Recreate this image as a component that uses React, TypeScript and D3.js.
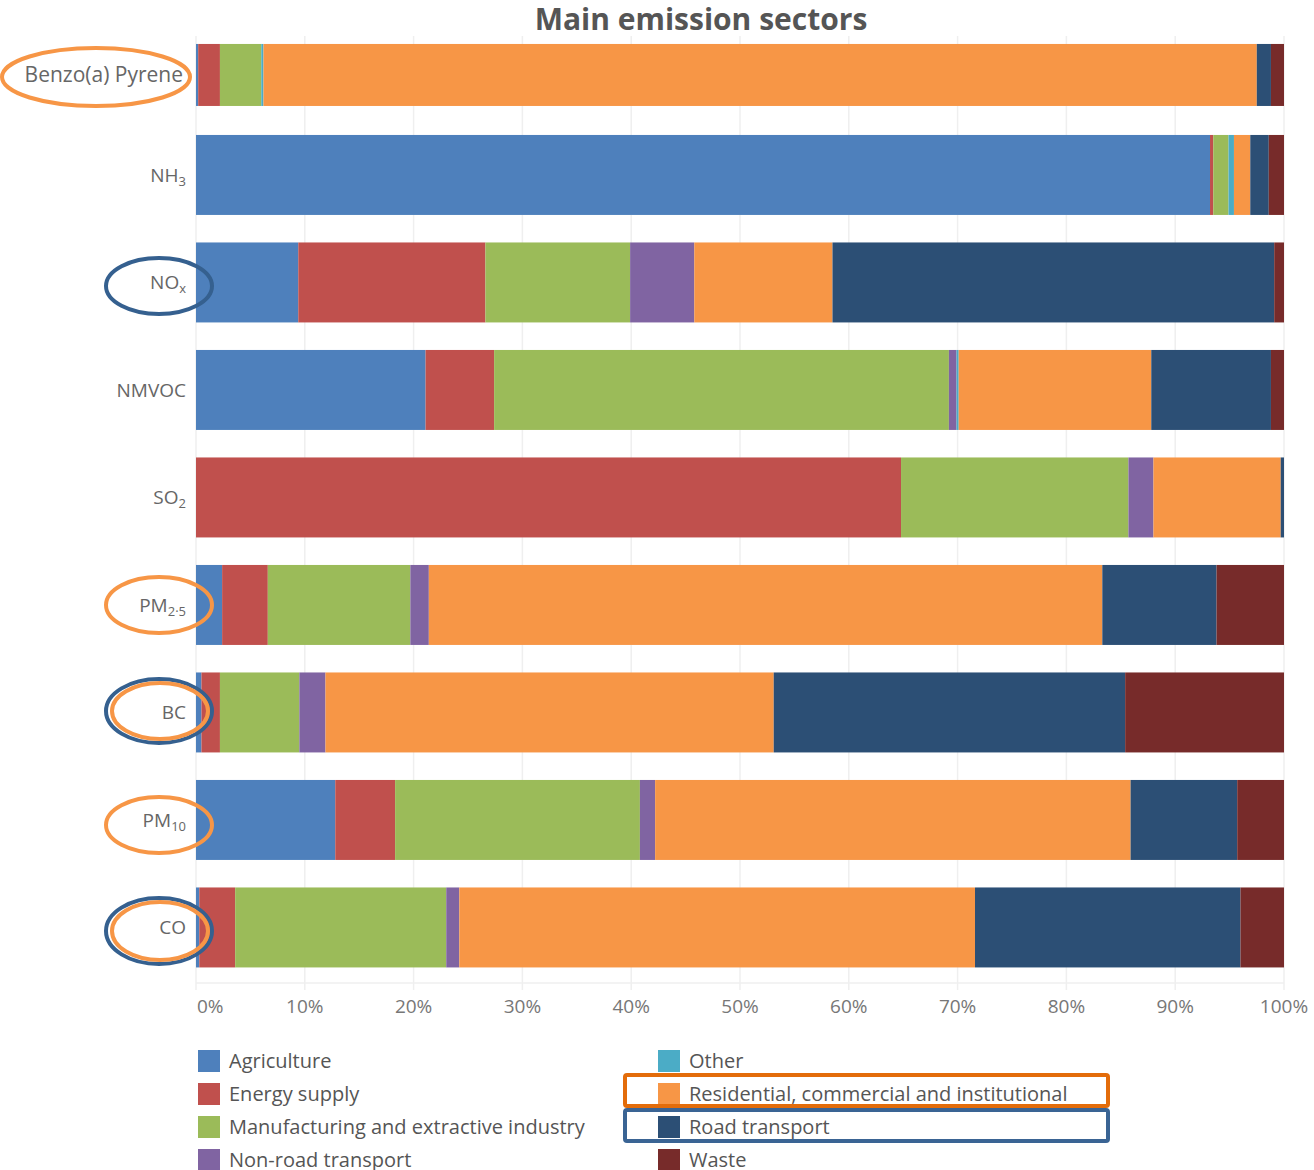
import React, { useRef, useEffect } from 'react';
import * as d3 from 'd3';

// pollutants (top to bottom)
const pollutants = ['Benzo(a) Pyrene', 'NH3', 'NOx', 'NMVOC', 'SO2', 'PM2.5', 'BC', 'PM10', 'CO'];

const sectors = [
  'Agriculture',
  'Energy supply',
  'Manufacturing and extractive industry',
  'Non-road transport',
  'Other',
  'Residential, commercial and institutional',
  'Road transport',
  'Waste',
];

const sectorColors = ['#4e80bc', '#c0504d', '#9bbb59', '#8064a2', '#4bacc6', '#f79646', '#2c4f75', '#772b2a'];

// share (%) of each sector, one array per sector, in pollutant order
const agriculture = [0.2, 93.2, 9.4, 21.1, 0, 2.4, 0.5, 12.8, 0.3];
const energySupply = [2.0, 0.3, 17.2, 6.3, 64.8, 4.2, 1.7, 5.5, 3.3];
const manufacturing = [3.8, 1.4, 13.3, 41.8, 20.9, 13.1, 7.3, 22.5, 19.4];
const nonRoad = [0, 0, 5.9, 0.7, 2.3, 1.7, 2.4, 1.4, 1.2];
const other = [0.2, 0.5, 0, 0.2, 0, 0, 0, 0, 0];
const residential = [91.3, 1.5, 12.7, 17.7, 11.7, 61.9, 41.2, 43.7, 47.4];
const roadTransport = [1.3, 1.7, 40.6, 11.0, 0.3, 10.5, 32.3, 9.8, 24.4];
const waste = [1.2, 1.4, 0.9, 1.2, 0, 6.2, 14.6, 4.3, 4.0];

const tickValues = [0, 10, 20, 30, 40, 50, 60, 70, 80, 90, 100];

// label pieces: [main, subscript]
const labelParts: [string, string][] = [
  ['Benzo(a) Pyrene', ''],
  ['NH', '3'],
  ['NO', 'x'],
  ['NMVOC', ''],
  ['SO', '2'],
  ['PM', '2·5'],
  ['BC', ''],
  ['PM', '10'],
  ['CO', ''],
];

const App = () => {
  const svgRef = useRef(null);

  useEffect(() => {
    document.body.style.margin = '0';
    const width = 1314;
    const height = 1170;
    const font = '"Open Sans", sans-serif';

    const svg = d3.select(svgRef.current)
      .attr('width', width)
      .attr('height', height);
    svg.selectAll('*').remove();

    const table = pollutants.map((p, i) => {
      const row: any = { pollutant: p };
      const cols = [agriculture, energySupply, manufacturing, nonRoad, other, residential, roadTransport, waste];
      sectors.forEach((s, j) => { row[s] = cols[j][i]; });
      return row;
    });

    const x = d3.scaleLinear().domain([0, 100]).range([196, 1284]);
    const y = d3.scaleBand().domain(pollutants).range([13.7, 13.7 + 107.5 * 9]).paddingInner(0.256).paddingOuter(0.128);
    const color = d3.scaleOrdinal<string>().domain(sectors).range(sectorColors);
    // the top row is drawn a little shorter and lower, as in the source
    const isTop = (p: string) => p === pollutants[0];
    const barY = (p: string) => y(p)! + (isTop(p) ? 16.5 : 0);
    const barH = (p: string) => isTop(p) ? 62 : y.bandwidth();

    // grid
    svg.append('g')
      .selectAll('line')
      .data(tickValues)
      .enter().append('line')
      .attr('x1', d => x(d)).attr('x2', d => x(d))
      .attr('y1', 36).attr('y2', 990)
      .attr('stroke', '#efefef')
      .attr('stroke-width', 1.5);

    svg.append('line')
      .attr('x1', x(0)).attr('x2', x(100))
      .attr('y1', 983).attr('y2', 983)
      .attr('stroke', '#efefef')
      .attr('stroke-width', 1.5);

    // title
    svg.append('text')
      .attr('x', 701).attr('y', 30)
      .attr('text-anchor', 'middle')
      .attr('font-family', font)
      .attr('font-weight', 'bold')
      .attr('font-size', 30)
      .attr('fill', '#555')
      .text('Main emission sectors');

    // stacked bars
    const stacked = d3.stack().keys(sectors)(table);
    svg.append('g')
      .selectAll('g')
      .data(stacked)
      .enter().append('g')
      .attr('fill', (d: any) => color(d.key))
      .selectAll('rect')
      .data((d: any) => d)
      .enter().append('rect')
      .attr('x', (d: any) => x(d[0]))
      .attr('width', (d: any) => Math.max(0, x(d[1]) - x(d[0])))
      .attr('y', (d: any) => barY(d.data.pollutant))
      .attr('height', (d: any) => barH(d.data.pollutant));

    // row labels
    const labels = svg.append('g')
      .selectAll('text')
      .data(labelParts)
      .enter().append('text')
      .attr('x', (d, i) => i === 0 ? 183 : 186)
      .attr('y', (d, i) => barY(pollutants[i]) + barH(pollutants[i]) / 2 + 7)
      .attr('text-anchor', 'end')
      .attr('font-family', font)
      .attr('font-size', (d, i) => i === 0 ? 21 : 19)
      .attr('fill', '#666');
    labels.append('tspan').text(d => d[0]);
    labels.filter(d => d[1] !== '')
      .append('tspan')
      .attr('font-size', 13)
      .attr('dy', 4)
      .text(d => d[1]);

    // x axis labels
    svg.append('g')
      .selectAll('text')
      .data(tickValues)
      .enter().append('text')
      .attr('x', d => d === 0 ? x(d) + 1 : x(d))
      .attr('y', 1013)
      .attr('text-anchor', d => d === 0 ? 'start' : 'middle')
      .attr('font-family', font)
      .attr('font-size', 19)
      .attr('fill', '#777')
      .text(d => d + '%');

    // legend
    const legend = svg.append('g')
      .selectAll('g')
      .data(sectors)
      .enter().append('g')
      .attr('transform', (d, i) => `translate(${i < 4 ? 198 : 658},${1050 + (i % 4) * 33})`);
    legend.append('rect')
      .attr('width', 22).attr('height', 22)
      .attr('fill', d => color(d));
    legend.append('text')
      .attr('x', 31).attr('y', 18)
      .attr('font-family', font)
      .attr('font-size', 20)
      .attr('fill', '#555')
      .text(d => d);

    // highlight annotations
    const ann = svg.append('g').attr('fill', 'none').attr('stroke-width', 4);
    const ellipses = [
      { cx: 96, cy: 77, rx: 94, ry: 29, c: '#f79646' },
      { cx: 159, cy: 286, rx: 53, ry: 28, c: '#35608f' },
      { cx: 159, cy: 605, rx: 53, ry: 28, c: '#f79646' },
      { cx: 159, cy: 711, rx: 53, ry: 32, c: '#35608f' },
      { cx: 160, cy: 711, rx: 48, ry: 28, c: '#f79646' },
      { cx: 159, cy: 825, rx: 53, ry: 28, c: '#f79646' },
      { cx: 159, cy: 931, rx: 53, ry: 33, c: '#35608f' },
      { cx: 160, cy: 931, rx: 48, ry: 29, c: '#f79646' },
    ];
    ann.selectAll('ellipse')
      .data(ellipses)
      .enter().append('ellipse')
      .attr('cx', d => d.cx).attr('cy', d => d.cy)
      .attr('rx', d => d.rx).attr('ry', d => d.ry)
      .attr('stroke', d => d.c);

    ann.append('rect')
      .attr('x', 625).attr('y', 1075).attr('width', 483).attr('height', 31).attr('rx', 2)
      .attr('stroke', '#e36c0a');
    ann.append('rect')
      .attr('x', 625).attr('y', 1110).attr('width', 483).attr('height', 31).attr('rx', 2)
      .attr('stroke', '#3a6494');
  }, []);

  return (
    <svg ref={svgRef}></svg>
  );
};

export default App;
